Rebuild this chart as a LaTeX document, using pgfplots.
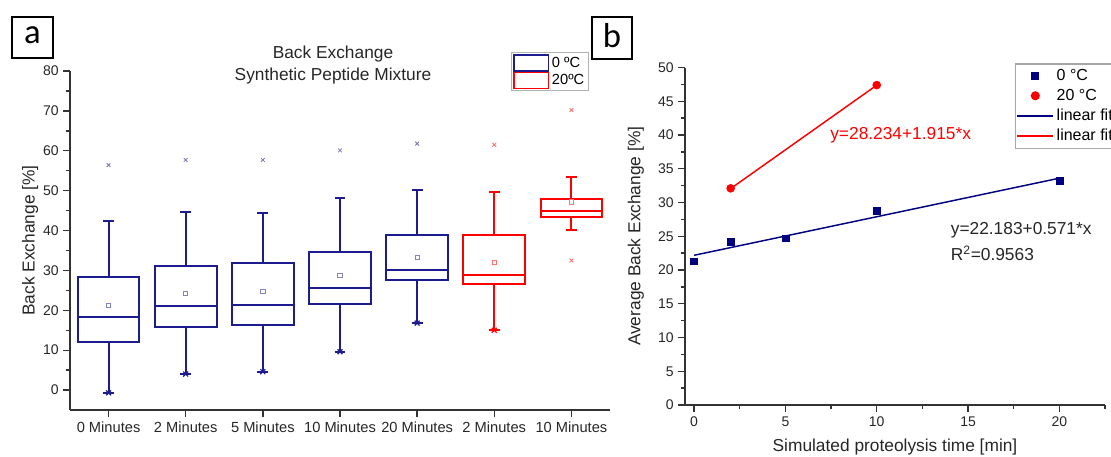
\documentclass[border=0pt]{standalone}
\usepackage{fontspec}
\setmainfont{Liberation Sans}
\newfontfamily\carlito{Carlito}
\usepackage{pgfplots}
\pgfplotsset{compat=1.18}
\usepgfplotslibrary{statistics}
\definecolor{boxblue}{HTML}{1C1C8E}
\definecolor{navy}{HTML}{000080}
\definecolor{axisgray}{HTML}{333333}

\pgfplotsset{
  every non boxed x axis/.style={},
  every non boxed y axis/.style={},
  panel/.style={
    scale only axis,
    axis x line=bottom, axis y line=left,
    axis line style={axisgray, line width=1.3pt, -},
    tick align=outside,
    major tick length=5pt, minor tick length=3pt,
    tick style={axisgray, line width=1pt},
    /pgf/number format/assume math mode=true,
    tick label style={font=\fontsize{10.5}{12}\selectfont, text=black!85},
    label style={font=\fontsize{13}{15}\selectfont, text=black!85},
    clip=false,
  },
  bx/.style={boxblue, line width=1.5pt, solid,
    boxplot prepared={draw direction=y, #1, box extend=0.8, whisker extend=0.14}},
  rx/.style={red, line width=1.5pt, solid,
    boxplot prepared={draw direction=y, #1, box extend=0.8, whisker extend=0.14}},
  rect legend/.style={legend image code/.code={\draw[##1] (0pt,-6pt) rectangle (26pt,6pt);}},
}

\begin{document}
\begin{tikzpicture}
% panel labels
\draw[line width=1.8pt] (9pt,330pt) rectangle (39.75pt,299.25pt);
\node[font=\carlito\fontsize{26}{28}\selectfont] at (24.4pt,316pt) {a};
\draw[line width=1.8pt] (444pt,330pt) rectangle (474pt,298.5pt);
\node[font=\carlito\fontsize{26}{28}\selectfont] at (459pt,316pt) {b};

% ---- panel a: box plots
\begin{axis}[panel,
  at={(52.5pt,35.25pt)}, anchor=south west,
  width=405pt, height=254.25pt,
  xmin=0.5, xmax=7.5, ymin=-5, ymax=80,
  xtick={1,...,7},
  xticklabels={0 Minutes,2 Minutes,5 Minutes,10 Minutes,20 Minutes,2 Minutes,10 Minutes},
  xticklabel style={font=\fontsize{11}{12}\selectfont},
  ytick={0,10,...,80},
  minor ytick={5,15,...,75},
  ylabel={Back Exchange [\%]},
  ylabel style={at={(axis description cs:-0.074,0.5)}, anchor=center},
  title={Back Exchange\\Synthetic Peptide Mixture},
  title style={at={(axis description cs:0.487,0.994)}, anchor=center,
    align=center, font=\fontsize{13}{16.5}\selectfont, text=black!85},
  legend style={at={(0.817,1.055)}, anchor=north west, draw=gray!60,
    line width=0.8pt, inner sep=1pt, row sep=0pt,
    font=\fontsize{11}{12}\selectfont},
  legend cell align=left,
]
\addlegendimage{rect legend, boxblue, line width=1.2pt}
\addlegendentry{0 ºC}
\addlegendimage{rect legend, red, line width=1.2pt}
\addlegendentry{20ºC}

\addplot[bx={draw position=1, lower whisker=-0.7, lower quartile=12.1,
  median=18.3, upper quartile=28.4, upper whisker=42.3}] coordinates {};
\addplot[bx={draw position=2, lower whisker=4.0, lower quartile=15.8,
  median=21.2, upper quartile=31.2, upper whisker=44.6}] coordinates {};
\addplot[bx={draw position=3, lower whisker=4.6, lower quartile=16.2,
  median=21.3, upper quartile=31.9, upper whisker=44.4}] coordinates {};
\addplot[bx={draw position=4, lower whisker=9.6, lower quartile=21.5,
  median=25.6, upper quartile=34.6, upper whisker=48.1}] coordinates {};
\addplot[bx={draw position=5, lower whisker=16.8, lower quartile=27.5,
  median=30.2, upper quartile=38.8, upper whisker=50.2}] coordinates {};
\addplot[rx={draw position=6, lower whisker=15.0, lower quartile=26.5,
  median=28.9, upper quartile=38.8, upper whisker=49.7}] coordinates {};
\addplot[rx={draw position=7, lower whisker=40.1, lower quartile=43.5,
  median=44.9, upper quartile=47.8, upper whisker=53.5}] coordinates {};

% minimum markers at the whisker ends
\addplot[only marks, mark=x, mark size=2.6pt, boxblue, line width=0.9pt]
  coordinates {(1,-0.7) (2,4.0) (3,4.6) (4,9.6) (5,16.8)};
\addplot[only marks, mark=x, mark size=2.6pt, red, line width=0.9pt]
  coordinates {(6,15.0)};

% 1% / 99% markers
\addplot[only marks, mark=x, mark size=2pt, boxblue!60, line width=0.6pt]
  coordinates {(1,56.4) (2,57.7) (3,57.7) (4,60.1) (5,61.8)};
\addplot[only marks, mark=x, mark size=2pt, red!60, line width=0.6pt]
  coordinates {(6,61.5) (7,70.2) (7,32.5)};

% means
\addplot[only marks, mark=square, mark size=1.6pt, boxblue!55, line width=0.6pt]
  coordinates {(1,21.3) (2,24.2) (3,24.7) (4,28.8) (5,33.2)};
\addplot[only marks, mark=square, mark size=1.6pt, red!55, line width=0.6pt]
  coordinates {(6,32.1) (7,47.2)};
\end{axis}

% ---- panel b: averages and linear fits
\begin{axis}[panel,
  at={(513.75pt,39pt)}, anchor=south west,
  width=315pt, height=253.1pt,
  xmin=-0.5, xmax=22.5, ymin=0, ymax=50,
  xtick={0,5,...,20},
  minor xtick={2.5,7.5,12.5,17.5,22.5},
  ytick={0,5,...,50},
  minor ytick={2.5,7.5,...,47.5},
  xlabel={Simulated proteolysis time [min]},
  xlabel style={at={(axis description cs:0.5,-0.124)}, anchor=center},
  ylabel={Average Back Exchange [\%]},
  ylabel style={at={(axis description cs:-0.117,0.5)}, anchor=center},
  legend style={at={(0.785,1.012)}, anchor=north west, draw=gray!70,
    line width=0.8pt, inner xsep=1pt, inner ysep=2pt, row sep=1pt,
    font=\fontsize{12}{13}\selectfont},
  legend cell align=left,
  legend image code/.code={\draw[mark repeat=2, mark phase=2, #1]
    plot coordinates {(0pt,0pt) (13.5pt,0pt) (27pt,0pt)};},
]
\addplot[only marks, mark=square*, mark size=2.6pt, navy]
  coordinates {(0,21.3) (2,24.2) (5,24.7) (10,28.8) (20,33.2)};
\addlegendentry{0 °C}
\addplot[only marks, mark=*, mark size=3pt, red]
  coordinates {(2,32.1) (10,47.4)};
\addlegendentry{20 °C}
\addplot[navy, line width=1.1pt, no marks]
  coordinates {(0,22.183) (20,33.603)};
\addlegendentry{linear fit}
\addplot[red, line width=1.1pt, no marks]
  coordinates {(2,32.064) (10,47.384)};
\addlegendentry{linear fit}

\node[anchor=west, text=red, font=\fontsize{13}{15}\selectfont]
  at (axis cs:7.2,40) {y=28.234+1.915*x};
\node[anchor=west, text=black!85, font=\fontsize{13}{15}\selectfont]
  at (axis cs:13.8,25.9) {y=22.183+0.571*x};
\node[anchor=west, text=black!85, font=\fontsize{13}{15}\selectfont]
  at (axis cs:13.8,22.5) {R\textsuperscript{2}=0.9563};
\end{axis}

% the page ends at the right edge, as the reference does
\pgfresetboundingbox
\useasboundingbox (0,0) rectangle (833.25pt,342.75pt);
\end{tikzpicture}
\end{document}
